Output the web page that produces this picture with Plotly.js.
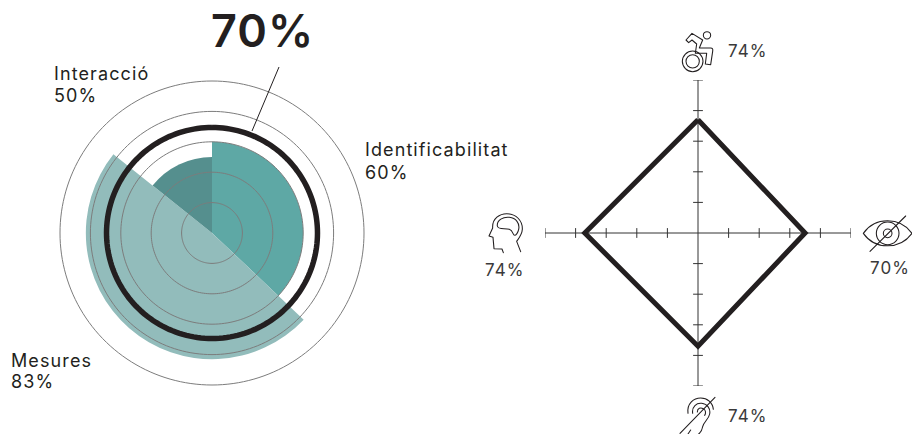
<!DOCTYPE html>
<html><head><meta charset="utf-8">
<script src="https://cdn.plot.ly/plotly-3.0.1.min.js"></script>
<style>html,body{margin:0;padding:0;background:#fff}#c{width:912px;height:434px}
.annotation-text{letter-spacing:1.1px}</style></head><body><div id="c"></div>
<script>
// Sector data (Left chart)
const sectorNames=['Identificabilitat','Mesures','Interacció'];
const sectorValues=[60,83,50];
const sectorStart=[0,133.4,308.6];
const sectorWidth=[133.4,175.2,51.4];
const sectorColors=['#5EA8A5','#92BCBB','#558F8E'];
const overallValue=70;
const ringValues=[20,40,60,80,100];
// Diamond data (Right chart)
const axisTicks=[-100,-80,-60,-40,-20,20,40,60,80,100];
const diamondX=[0,70,0,-74,0];
const diamondY=[74,0,-74,0,74];
const W=912,H=434;
const px=x=>x/W, py=y=>1-y/H;
const circleTheta=[];for(let a=0;a<=360;a+=2)circleTheta.push(a);

const traces=[];
traces.push({type:'barpolar',subplot:'polar',r:sectorValues,
  theta:sectorStart.map((s,i)=>s+sectorWidth[i]/2),width:sectorWidth,
  marker:{color:sectorColors,line:{width:0}},text:sectorNames,hoverinfo:'text+r',showlegend:false});
ringValues.forEach(v=>traces.push({type:'scatterpolar',subplot:'polar',mode:'lines',
  r:circleTheta.map(()=>v),theta:circleTheta,line:{color:'#7c7c7c',width:1},hoverinfo:'skip',showlegend:false}));
traces.push({type:'scatterpolar',subplot:'polar',mode:'lines',
  r:circleTheta.map(()=>overallValue-0.6),theta:circleTheta,line:{color:'#231F20',width:5.5},hoverinfo:'skip',showlegend:false});
// right chart
const lineStyle={color:'#333',width:1};
traces.push({type:'scatter',xaxis:'x',yaxis:'y',mode:'lines',x:[-100,100],y:[0,0],line:lineStyle,hoverinfo:'skip',showlegend:false});
traces.push({type:'scatter',xaxis:'x',yaxis:'y',mode:'lines',x:[0,0],y:[-100,100],line:lineStyle,hoverinfo:'skip',showlegend:false});
traces.push({type:'scatter',xaxis:'x',yaxis:'y',mode:'markers',x:axisTicks,y:axisTicks.map(()=>0),
  marker:{symbol:'line-ns',size:7,line:{width:1,color:'#333'}},hoverinfo:'skip',showlegend:false});
traces.push({type:'scatter',xaxis:'x',yaxis:'y',mode:'markers',x:axisTicks.map(()=>0),y:axisTicks,
  marker:{symbol:'line-ew',size:7,line:{width:1,color:'#333'}},hoverinfo:'skip',showlegend:false});
traces.push({type:'scatter',xaxis:'x',yaxis:'y',mode:'lines',x:diamondX,y:diamondY,
  line:{color:'#231F20',width:5,join:'miter'},hoverinfo:'x+y',showlegend:false});

const svg=(w,h,body)=>'data:image/svg+xml;utf8,'+encodeURIComponent(
 `<svg xmlns="http://www.w3.org/2000/svg" width="${w*3}" height="${h*3}" viewBox="0 0 ${w*3} ${h*3}"><g fill="none" stroke="#231F20" stroke-width="3.2" stroke-linejoin="round" stroke-linecap="round">${body}</g></svg>`);
const icons=[
 {x:660,y:20,w:120,h:80,b:`<circle cx="141" cy="46" r="11"/><circle cx="98" cy="124" r="31"/><circle cx="98" cy="124" r="20"/>
   <path d="M96 40 L128 60 L118 84 L152 84 Q160 84 158 94 L152 134 L136 132 L140 100 L106 100 L110 72 L96 60 L86 68 L78 60 Z"/>`},
 {x:470,y:200,w:130,h:90,b:`<path d="M100 158 L96 147 L72 146 L69 112 L57 108 L68 84 C66 55 90 41 110 41 C138 41 158 62 157 88 C156 105 146 115 140 124 L152 155"/>
   <path d="M82 78 C80 60 100 50 118 52 C138 54 150 70 146 88 C144 98 138 106 134 106 C128 106 130 92 118 88 C104 84 84 90 82 78 Z"/>`},
 {x:800,y:200,w:112,h:90,b:`<path d="M190 100 C225 50 300 50 336 100 C300 150 225 150 190 100 Z"/><circle cx="263" cy="100" r="34"/><circle cx="263" cy="100" r="13"/><path d="M210 154 L317 48"/>`},
 {x:660,y:380,w:120,h:54,b:`<path d="M84 100 C80 70 102 54 122 54 C142 54 158 68 160 88"/><path d="M98 100 C95 80 110 68 125 70 C142 72 152 86 149 102 C146 118 132 124 128 140 C126 150 122 158 116 162"/>
   <path d="M112 96 C112 84 122 82 130 86 C138 90 138 100 134 106"/><path d="M60 160 L165 52"/><path d="M84 162 L92 150"/>`}
];
const images=icons.map(i=>({source:svg(i.w,i.h,i.b),xref:'paper',yref:'paper',x:px(i.x),y:py(i.y),
  sizex:i.w/W,sizey:i.h/H,xanchor:'left',yanchor:'top',sizing:'stretch',layer:'above'}));

const txt=(t,x,y,size,opts={})=>Object.assign({text:t,xref:'paper',yref:'paper',x:px(x),y:py(y),xanchor:'left',yanchor:'middle',
  showarrow:false,align:'left',borderpad:0,font:{family:'Inter, sans-serif',size:size,color:'#231F20'}},opts);
const small={family:'Inter, sans-serif',size:17,color:'#3a3a3a'};
const annotations=[
 txt('70%',210,31,45,{font:{family:'Inter, sans-serif',size:45,weight:600,color:'#231F20'}}),
 txt('Interacció',53,73,18),txt('50%',53,95,18),
 txt('Identificabilitat',364,150,18),txt('60%',364,172,18),
 txt('Mesures',10,360,18),txt('83%',10,381,18),
 txt('74%',727,51,17,{font:small}),
 txt('74%',484,270,17,{font:small}),
 txt('70%',869,268,17,{font:small}),
 txt('74%',727,416,17,{font:small})
];
const hidden={visible:false,fixedrange:true};
const layout={width:W,height:H,margin:{l:0,r:0,t:0,b:0},paper_bgcolor:'#fff',plot_bgcolor:'#fff',showlegend:false,
 polar:{domain:{x:[px(56.96),px(367.04)],y:[py(388.04),py(77.96)]},bgcolor:'rgba(0,0,0,0)',
   radialaxis:{range:[0,102],visible:false},
   angularaxis:{visible:false,direction:'clockwise',rotation:90},barmode:'overlay',gap:0},
 xaxis:{...hidden,domain:[px(545),px(851)],range:[-100,100]},
 yaxis:{...hidden,domain:[py(386),py(80)],range:[-100,100]},
 shapes:[{type:'line',xref:'paper',yref:'paper',x0:px(279),y0:py(67),x1:px(252),y1:py(131),line:{color:'#231F20',width:1}}],
 images,annotations};
Plotly.newPlot('c',traces,layout,{displayModeBar:false,staticPlot:true});
</script></body></html>
